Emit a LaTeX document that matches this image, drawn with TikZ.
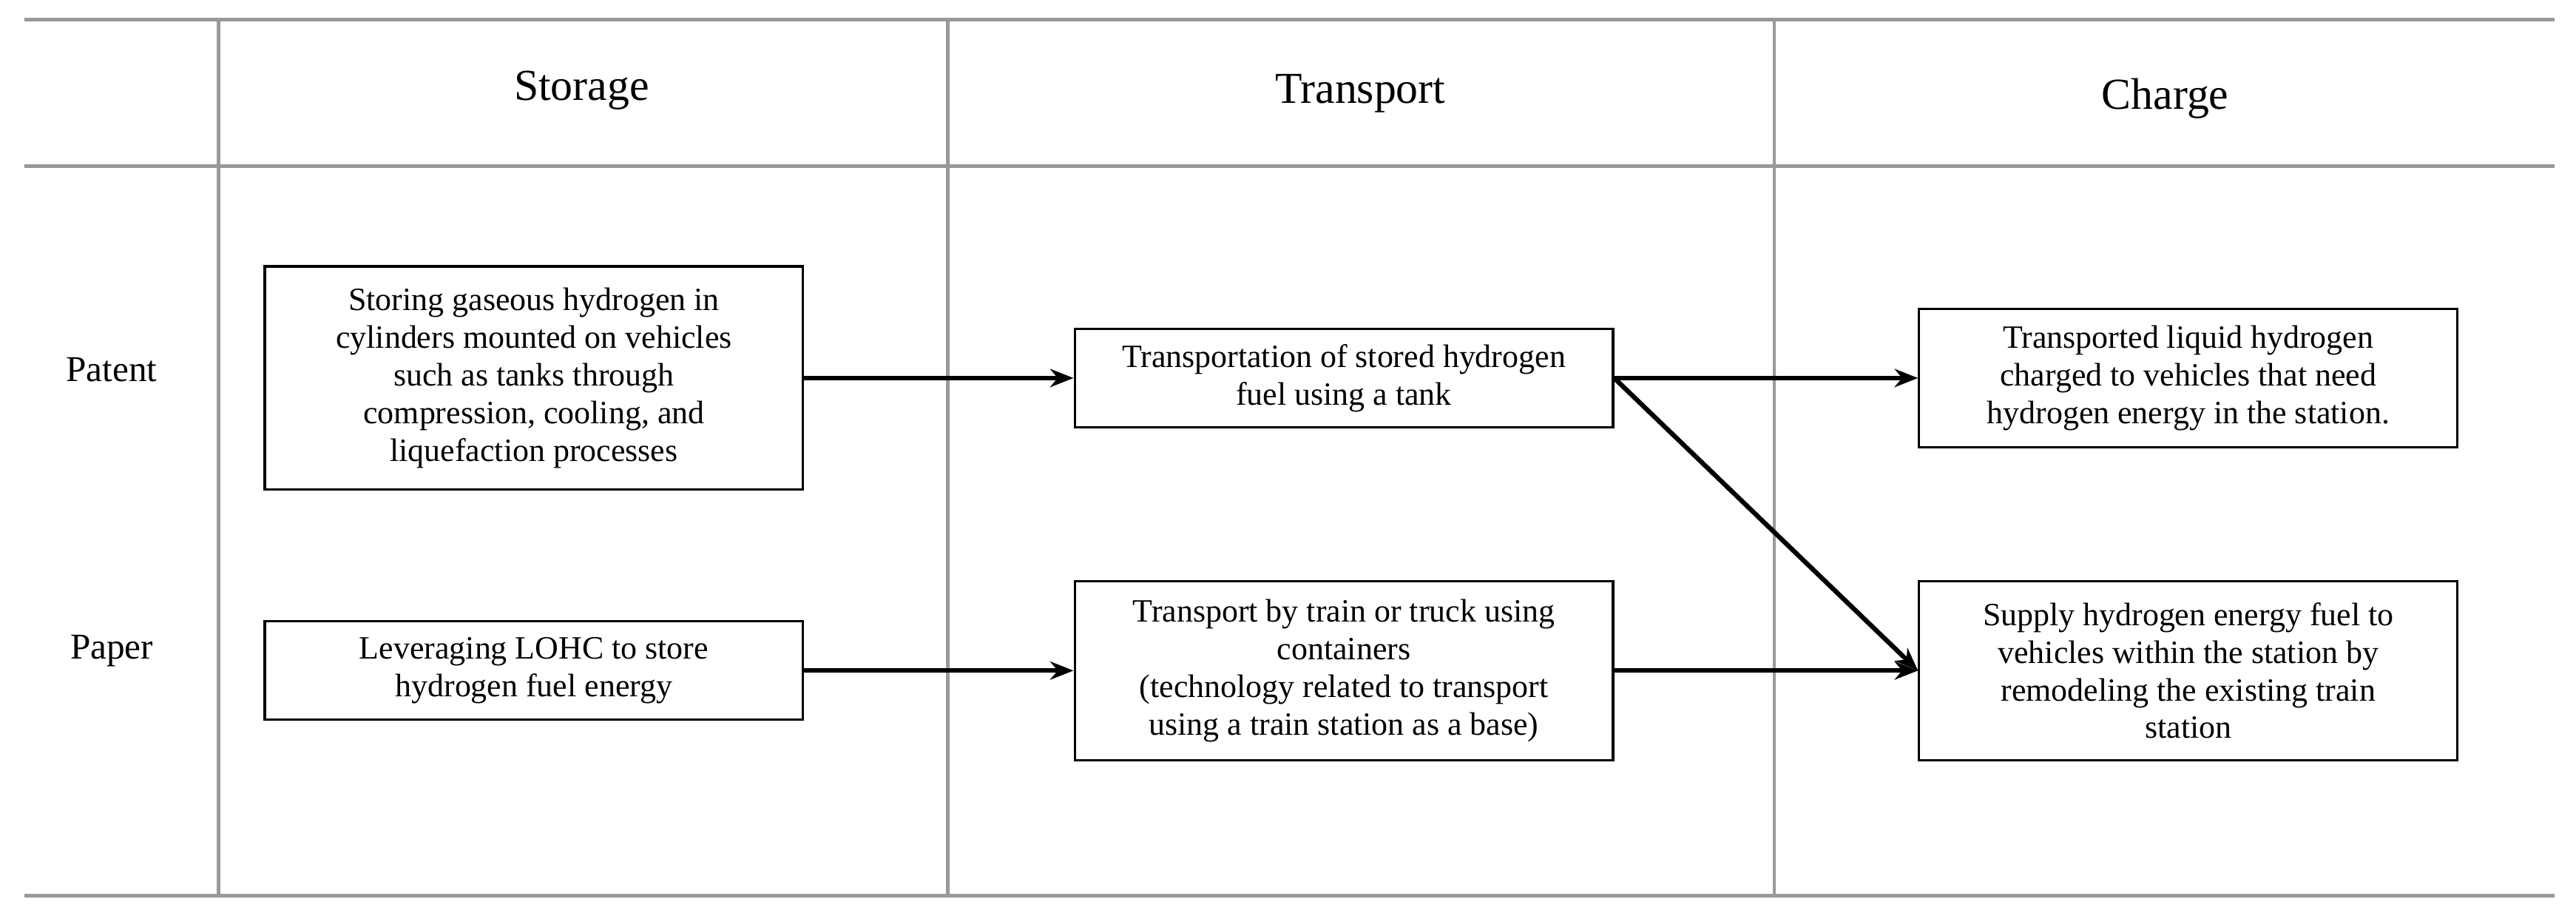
\documentclass[tikz,border=0pt]{standalone}
\usepackage{fontspec}
\setmainfont{Liberation Serif}
\usetikzlibrary{arrows.meta}
\begin{document}
\begin{tikzpicture}[x=0.02221cm,y=-0.02221cm,
  rule/.style={draw=gray!80,line width=1.3pt},
  box/.style={draw,line width=0.9pt,align=center,font=\fontsize{12.5}{14.5}\selectfont,inner sep=2pt},
  hd/.style={font=\fontsize{17}{20}\selectfont},
  rl/.style={font=\fontsize{14}{17}\selectfont},
  arr/.style={line width=1.8pt,-{Stealth[length=9pt,width=7pt]}}]
\useasboundingbox (0,0) rectangle (1568,559);
\draw[rule] (15,12) -- (1555,12);
\draw[rule] (15,101) -- (1555,101);
\draw[rule] (15,545) -- (1555,545);
\foreach \x in {133,577,1080} \draw[rule] (\x,12) -- (\x,545);
\node[hd] (h1) at (354,55) {Storage};
\node[hd] (h2) at (828,57) {Transport};
\node[hd] (h3) at (1318,60) {Charge};
\node[rl] (r1) at (68,225) {Patent};
\node[rl] (r2) at (68,396) {Paper};
\node[box,minimum width=7.28cm,minimum height=3.02cm] (A) at (325,230) {Storing gaseous hydrogen in\\cylinders mounted on vehicles\\such as tanks through\\compression, cooling, and\\liquefaction processes};
\node[box,minimum width=7.28cm,minimum height=1.33cm] (B) at (325,408) {Leveraging LOHC to store\\hydrogen fuel energy};
\node[box,minimum width=7.28cm,minimum height=1.33cm] (C) at (818,230) {Transportation of stored hydrogen\\fuel using a tank};
\node[box,minimum width=7.28cm,minimum height=2.42cm] (D) at (818,408) {Transport by train or truck using\\containers\\(technology related to transport\\using a train station as a base)};
\node[box,minimum width=7.28cm,minimum height=1.87cm] (E) at (1332,230) {Transported liquid hydrogen\\charged to vehicles that need\\hydrogen energy in the station.};
\node[box,minimum width=7.28cm,minimum height=2.42cm] (F) at (1332,408) {Supply hydrogen energy fuel to\\vehicles within the station by\\remodeling the existing train\\station};
\draw[arr] (A.east) -- (C.west);
\draw[arr] (B.east) -- (D.west);
\draw[arr] (C.east) -- (E.west);
\draw[arr] (C.east) -- (F.west);
\draw[arr] (D.east) -- (F.west);
\end{tikzpicture}
\end{document}
